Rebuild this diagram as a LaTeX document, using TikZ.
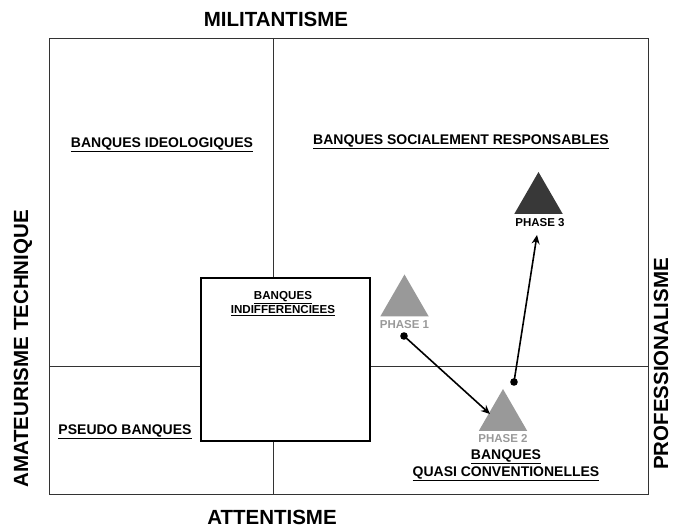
\documentclass[tikz,border=0pt]{standalone}
\usepackage{fontspec}
\setmainfont{Liberation Sans}
\usetikzlibrary{arrows.meta, shapes.geometric}
\colorlet{phasegray}{black!40}
\colorlet{phasedark}{black!78}

\tikzset{
  axistext/.style={font=\bfseries\fontsize{20.5}{23}\selectfont},
  banklabel/.style={font=\bfseries\fontsize{14}{17}\selectfont, align=center},
  smalllabel/.style={font=\bfseries\fontsize{11.6}{14}\selectfont, align=center},
  phasetri/.style={regular polygon, regular polygon sides=3, minimum size=56pt, inner sep=0pt},
  phaselabel/.style={font=\bfseries\fontsize{11.5}{13}\selectfont, inner sep=1pt},
  trendarrow/.style={-{Stealth[length=9pt,width=8pt]}, line width=1.6pt}
}

\begin{document}
\begin{tikzpicture}[x=1pt, y=-1pt]
    \useasboundingbox (0,0) rectangle (673,529);

    % quadrants
    \draw[line width=0.7pt, draw=black!80] (49,38) rectangle (648,494);
    \draw[line width=0.7pt, draw=black!80] (273,38) -- (273,494);
    \draw[line width=0.7pt, draw=black!80] (49,366) -- (648,366);
    \draw[fill=white, line width=1.6pt] (201,278) rectangle (370,441);

    % axes
    \node[axistext] (mil) at (276,19) {MILITANTISME};
    \node[axistext] (att) at (272,517) {ATTENTISME};
    \node[axistext, rotate=90] (ama) at (23,349) {AMATEURISME TECHNIQUE};
    \node[axistext, rotate=90] (pro) at (661,364) {PROFESSIONALISME};

    % bank types
    \node[banklabel] (ideo) at (162,145) {\underline{BANQUES IDEOLOGIQUES}};
    \node[banklabel] (soc) at (461,142) {\underline{BANQUES SOCIALEMENT RESPONSABLES}};
    \node[smalllabel] (indif) at (283,304) {\underline{BANQUES}\\\underline{INDIFFERENCIEES}};
    \node[banklabel] (pseudo) at (125,432) {\underline{PSEUDO BANQUES}};
    \node[banklabel] (quasi) at (506,465) {\underline{BANQUES}\\\underline{QUASI CONVENTIONELLES}};

    % phases
    \node[phasetri, fill=phasegray] (tri1) at (404.5,302.5) {};
    \node[phaselabel, text=phasegray] (lab1) at (404.5,325) {PHASE 1};
    \node[phasetri, fill=phasegray] (tri2) at (503,417) {};
    \node[phaselabel, text=phasegray] (lab2) at (503,439) {PHASE 2};
    \node[phasetri, fill=phasedark] (tri3) at (538.5,200) {};
    \node[phaselabel] (lab3) at (540,223) {PHASE 3};

    \coordinate (start1) at (404,336);
    \coordinate (end1) at (490,414);
    \coordinate (start2) at (514,382);
    \coordinate (end2) at (537,235);

    \fill (start1) circle (3.8pt);
    \fill (start2) circle (3.8pt);
    \draw[trendarrow] (start1) -- (end1);
    \draw[trendarrow] (start2) -- (end2);
\end{tikzpicture}
\end{document}
